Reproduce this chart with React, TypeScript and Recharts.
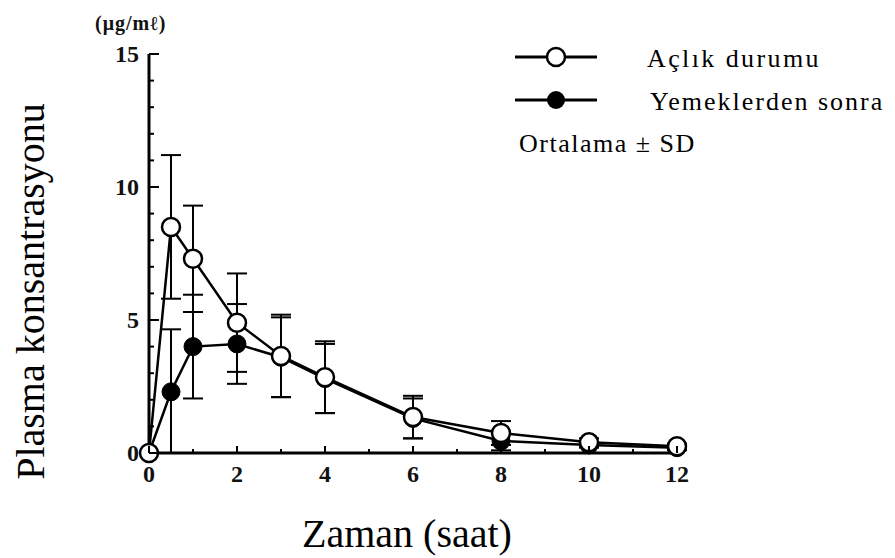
import { Legend, Line, LineChart, XAxis, YAxis, ErrorBar } from "recharts";

const hours = [0, 0.5, 1, 2, 3, 4, 6, 8, 10, 12];
const fasting = [0, 8.5, 7.3, 4.9, 3.65, 2.85, 1.35, 0.75, 0.4, 0.25];
const fastingSd = [0, 2.7, 2.0, 1.85, 1.55, 1.35, 0.8, 0.45, 0.15, 0.1];
const fed = [0, 2.3, 4.0, 4.1, 3.6, 2.8, 1.3, 0.45, 0.3, 0.2];
const fedSd = [0, 2.35, 1.95, 1.5, 1.5, 1.3, 0.75, 0.35, 0.1, 0.1];

const xTicks = [0, 1, 2, 3, 4, 5, 6, 7, 8, 9, 10, 11, 12];
const xLabels = [0, 2, 4, 6, 8, 10, 12];
const yTicks = [0, 1, 2, 3, 4, 5, 6, 7, 8, 9, 10, 11, 12, 13, 14, 15];
const yLabels = [0, 5, 10, 15];

const seriesNames = ["Açlık durumu", "Yemeklerden sonra"];
const noteText = "Ortalama ± SD";
const unitText = "(μg/mℓ)";
const xTitle = "Zaman (saat)";
const yTitle = "Plasma konsantrasyonu";

const data = hours.map((h, i) => ({
  h,
  fasting: fasting[i],
  fastingErr: [Math.min(fastingSd[i], fasting[i]), fastingSd[i]],
  fed: fed[i],
  fedErr: [Math.min(fedSd[i], fed[i]), fedSd[i]],
}));

const serif = "'Liberation Serif', 'Times New Roman', serif";
const TICK_MARGIN = 10;

function YTick(props: any) {
  const { x, y, payload } = props;
  const major = yLabels.includes(payload.value);
  const ax = x + TICK_MARGIN;
  return (
    <g>
      <line x1={ax} y1={y} x2={ax + (major ? 10 : 5)} y2={y} stroke="#000" strokeWidth={2} />
      {major && (
        <text x={x} y={y} dy={8} textAnchor="end" fontFamily={serif} fontWeight="bold" fontSize={24} fill="#111">
          {payload.value}
        </text>
      )}
    </g>
  );
}

function XTick(props: any) {
  const { x, y, payload } = props;
  const major = xLabels.includes(payload.value);
  const ay = y - TICK_MARGIN;
  return (
    <g>
      <line x1={x} y1={ay} x2={x} y2={ay - (major ? 7 : 4)} stroke="#000" strokeWidth={2} />
      {major && (
        <text x={x} y={y} dy={19} textAnchor="middle" fontFamily={serif} fontWeight="bold" fontSize={24} fill="#111">
          {payload.value}
        </text>
      )}
    </g>
  );
}

function LegendBox() {
  const textStyle = { fontFamily: serif, fontSize: 26, letterSpacing: 2, fill: "#000" };
  return (
    <svg width={395} height={140}>
      <line x1={15} y1={27} x2={97} y2={27} stroke="#000" strokeWidth={3} />
      <circle cx={56} cy={27} r={9} fill="#fff" stroke="#000" strokeWidth={2.5} />
      <text x={147} y={37} {...textStyle} letterSpacing={2.4}>{seriesNames[0]}</text>
      <line x1={15} y1={70} x2={97} y2={70} stroke="#000" strokeWidth={3} />
      <circle cx={56} cy={70} r={9} fill="#000" />
      <text x={150} y={80} {...textStyle}>{seriesNames[1]}</text>
      <text x={19} y={122} {...textStyle} letterSpacing={1.5}>{noteText}</text>
    </svg>
  );
}

export default function App() {
  return (
    <div style={{ position: "absolute", left: 0, top: 0, width: 895, height: 558, background: "#fff" }}>
      <div
        style={{
          position: "absolute",
          left: 95,
          top: 12,
          fontFamily: serif,
          fontWeight: "bold",
          fontSize: 20,
          letterSpacing: 1,
          color: "#111",
          zIndex: 2,
        }}
      >
        {unitText}
      </div>
      <LineChart
        width={895}
        height={558}
        data={data}
        margin={{ top: 54, right: 218, bottom: 75, left: 109 }}
      >
        <XAxis
          dataKey="h"
          type="number"
          domain={[0, 12]}
          ticks={xTicks}
          interval={0}
          height={30}
          tickSize={0}
          tickMargin={TICK_MARGIN}
          tick={<XTick />}
          axisLine={{ stroke: "#000", strokeWidth: 3 }}
          label={{
            content: (p: any) => {
              const vb = p.viewBox;
              return (
                <text x={vb.x + vb.width / 2 - 6} y={547} textAnchor="middle" fontFamily={serif} fontSize={40} fill="#000">
                  {xTitle}
                </text>
              );
            },
          }}
        />
        <YAxis
          type="number"
          domain={[0, 15]}
          ticks={yTicks}
          interval={0}
          width={40}
          tickSize={0}
          tickMargin={TICK_MARGIN}
          tick={<YTick />}
          axisLine={{ stroke: "#000", strokeWidth: 3 }}
          label={{
            content: (p: any) => {
              const vb = p.viewBox;
              const cy = vb.y + vb.height / 2 + 38;
              return (
                <text
                  x={30}
                  y={cy}
                  transform={`rotate(-90 30 ${cy})`}
                  textAnchor="middle"
                  dominantBaseline="central"
                  fontFamily={serif}
                  fontSize={40}
                  fill="#000"
                >
                  {yTitle}
                </text>
              );
            },
          }}
        />
        <Legend
          layout="vertical"
          verticalAlign="middle"
          align="center"
          wrapperStyle={{ position: "absolute", left: 500, top: 30, width: 395, height: 140 }}
          content={() => <LegendBox />}
        />
        <Line
          dataKey="fed"
          name={seriesNames[1]}
          stroke="#000"
          strokeWidth={2.5}
          dot={{ r: 9, fill: "#000", stroke: "#000", strokeWidth: 1 }}
          isAnimationActive={false}
        >
          <ErrorBar dataKey="fedErr" direction="y" width={10} stroke="#000" strokeWidth={2} />
        </Line>
        <Line
          dataKey="fasting"
          name={seriesNames[0]}
          stroke="#000"
          strokeWidth={2.5}
          dot={{ r: 9, fill: "#fff", stroke: "#000", strokeWidth: 2.5 }}
          isAnimationActive={false}
        >
          <ErrorBar dataKey="fastingErr" direction="y" width={10} stroke="#000" strokeWidth={2} />
        </Line>
      </LineChart>
    </div>
  );
}
